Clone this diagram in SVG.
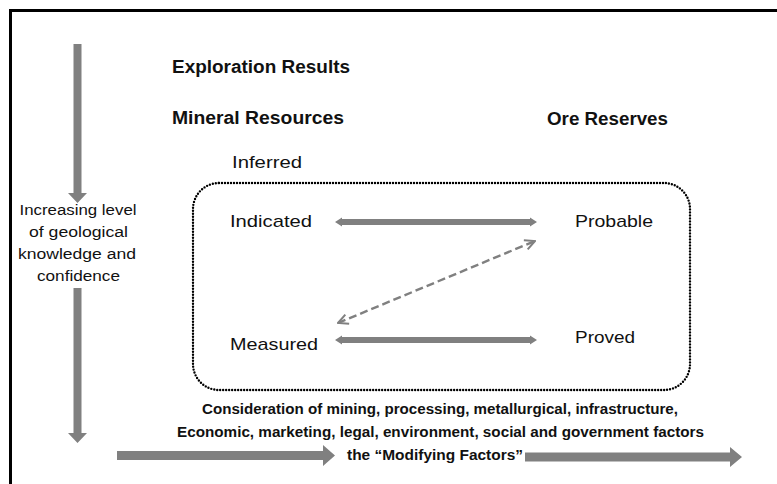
<svg xmlns="http://www.w3.org/2000/svg" width="777" height="484" viewBox="0 0 777 484">
  <style>
    text { font-family: "Liberation Sans", Arial, sans-serif; fill: #111; }
    .head { font-size: 18px; font-weight: bold; }
    .cat { font-size: 17px; }
    .side { font-size: 15.5px; text-anchor: middle; }
    .note { font-size: 14.5px; font-weight: bold; text-anchor: middle; }
    .bar { fill: #808080; }
    .dash { stroke: #808080; stroke-width: 2.4; fill: none; stroke-dasharray: 8 4; }
  </style>
  <defs>
    <marker id="chev" viewBox="0 0 12 12" refX="11" refY="6" markerWidth="12" markerHeight="12" markerUnits="userSpaceOnUse" orient="auto-start-reverse">
      <path d="M1,1 L11,6 L1,11" fill="none" stroke="#808080" stroke-width="2"/>
    </marker>
  </defs>

  <rect width="777" height="484" fill="#fff"/>

  <!-- outer frame (left and top edges) -->
  <path d="M10.5,484 V10.5 H777" fill="none" stroke="#000" stroke-width="3"/>

  <!-- confidence axis -->
  <g id="confidence-axis">
    <polygon class="bar" points="73.5,44 81.5,44 81.5,193 87,193 77.5,203 68,193 73.5,193"/>
    <text class="side" x="78" y="215" textLength="117" lengthAdjust="spacingAndGlyphs">Increasing level</text>
    <text class="side" x="78.5" y="237" textLength="99" lengthAdjust="spacingAndGlyphs">of geological</text>
    <text class="side" x="77" y="259" textLength="118" lengthAdjust="spacingAndGlyphs">knowledge and</text>
    <text class="side" x="78.5" y="281" textLength="83" lengthAdjust="spacingAndGlyphs">confidence</text>
    <polygon class="bar" points="73.5,288 81.5,288 81.5,433 87,433 77.5,443 68,433 73.5,433"/>
  </g>

  <!-- headings -->
  <g id="exploration-results">
    <text class="head" x="172" y="73" textLength="178" lengthAdjust="spacingAndGlyphs">Exploration Results</text>
  </g>
  <g id="mineral-resources">
    <text class="head" x="172" y="124" textLength="172" lengthAdjust="spacingAndGlyphs">Mineral Resources</text>
  </g>
  <g id="ore-reserves">
    <text class="head" x="547" y="125" textLength="121" lengthAdjust="spacingAndGlyphs">Ore Reserves</text>
  </g>

  <!-- resource / reserve categories -->
  <g id="inferred">
    <text class="cat" x="232" y="168" textLength="70" lengthAdjust="spacingAndGlyphs">Inferred</text>
  </g>
  <g id="convertible-zone">
    <rect x="193" y="183" width="497" height="207" rx="26" ry="26" fill="none" stroke="#000" stroke-width="2.4" stroke-linecap="round" stroke-dasharray="0 3"/>
  </g>
  <g id="indicated">
    <text class="cat" x="230" y="227" textLength="82" lengthAdjust="spacingAndGlyphs">Indicated</text>
  </g>
  <g id="probable">
    <text class="cat" x="575" y="227" textLength="78" lengthAdjust="spacingAndGlyphs">Probable</text>
  </g>
  <g id="measured">
    <text class="cat" x="230" y="350" textLength="88" lengthAdjust="spacingAndGlyphs">Measured</text>
  </g>
  <g id="proved">
    <text class="cat" x="575" y="343" textLength="60" lengthAdjust="spacingAndGlyphs">Proved</text>
  </g>

  <!-- modifying factors -->
  <g id="modifying-factors">
    <text class="note" x="440" y="414" textLength="476" lengthAdjust="spacingAndGlyphs">Consideration of mining, processing, metallurgical, infrastructure,</text>
    <text class="note" x="440.5" y="437" textLength="527" lengthAdjust="spacingAndGlyphs">Economic, marketing, legal, environment, social and government factors</text>
    <text class="note" x="435" y="460" textLength="176" lengthAdjust="spacingAndGlyphs">the “Modifying Factors”</text>
  </g>

  <!-- connectors -->
  <g id="connectors">
    <!-- Indicated <-> Probable -->
    <polygon class="bar" points="335,222 342,217.5 342,219 530,219 530,217.5 537,222 530,226.5 530,225 342,225 342,226.5"/>
    <!-- Measured <-> Proved -->
    <polygon class="bar" points="335,340 342,335.5 342,337 530,337 530,335.5 537,340 530,344.5 530,343 342,343 342,344.5"/>
    <!-- Measured <-> Probable (dashed) -->
    <line class="dash" x1="338" y1="323" x2="535" y2="241" marker-start="url(#chev)" marker-end="url(#chev)"/>
    <!-- modifying factors flow -->
    <polygon class="bar" points="117,451 323,451 323,445 335,455.5 323,466 323,460 117,460"/>
    <polygon class="bar" points="525,452.5 730,452.5 730,447 742,457 730,467 730,461.5 525,461.5"/>
  </g>
</svg>
